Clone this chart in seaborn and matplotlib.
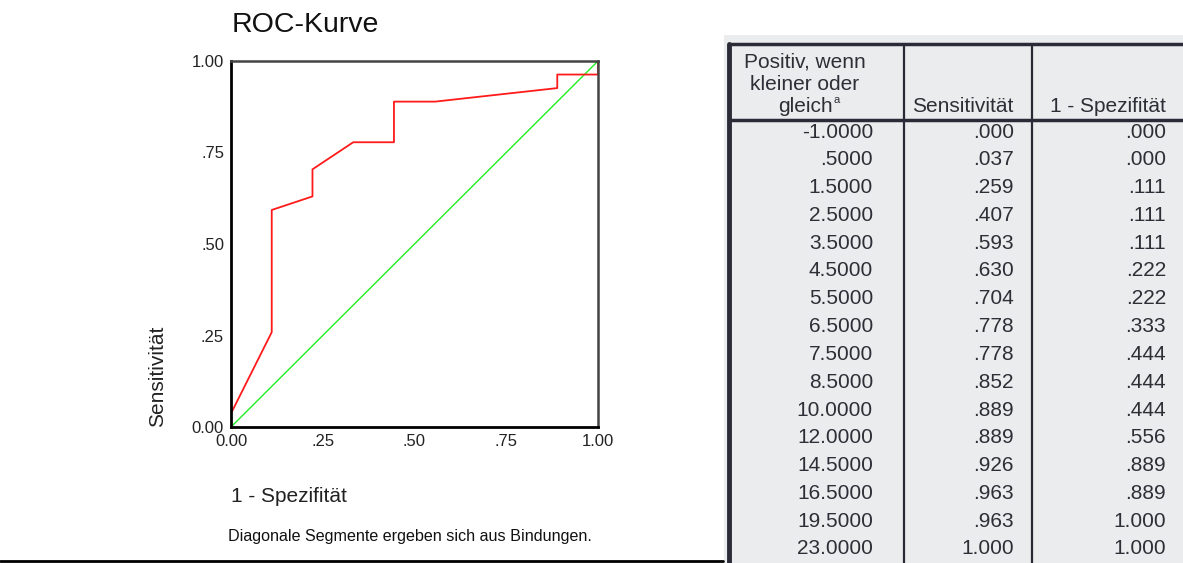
import numpy as np
import pandas as pd
import matplotlib
matplotlib.use("Agg")
import matplotlib.pyplot as plt
import seaborn as sns

# ---- data ----
thresholds = ["-1.0000", ".5000", "1.5000", "2.5000", "3.5000", "4.5000", "5.5000", "6.5000",
              "7.5000", "8.5000", "10.0000", "12.0000", "14.5000", "16.5000", "19.5000", "23.0000"]
sensitivity = [0.000, 0.037, 0.259, 0.407, 0.593, 0.630, 0.704, 0.778,
               0.778, 0.852, 0.889, 0.889, 0.926, 0.963, 0.963, 1.000]
one_minus_spec = [0.000, 0.000, 0.111, 0.111, 0.111, 0.222, 0.222, 0.333,
                  0.444, 0.444, 0.444, 0.556, 0.889, 0.889, 1.000, 1.000]
sens_labels = [".000", ".037", ".259", ".407", ".593", ".630", ".704", ".778",
               ".778", ".852", ".889", ".889", ".926", ".963", ".963", "1.000"]
spec_labels = [".000", ".000", ".111", ".111", ".111", ".222", ".222", ".333",
               ".444", ".444", ".444", ".556", ".889", ".889", "1.000", "1.000"]
ref_x = [0.0, 1.0]
ref_y = [0.0, 1.0]
tick_vals = [0.0, 0.25, 0.5, 0.75, 1.0]
tick_labels = ["0.00", ".25", ".50", ".75", "1.00"]

sns.set_style("white")
plt.rcParams['font.family'] = ['Liberation Sans', 'DejaVu Sans']

W, H = 1183, 563
fig = plt.figure(figsize=(W / 100, H / 100), dpi=100)
fig.patch.set_facecolor("white")

# ---- ROC chart ----
ax = fig.add_axes([231 / W, 1 - 427 / H, (598 - 231) / W, (427 - 61) / H])
roc = pd.DataFrame({"x": one_minus_spec, "y": sensitivity})
ref = pd.DataFrame({"x": ref_x, "y": ref_y})
sns.lineplot(data=ref, x="x", y="y", ax=ax, color="#22ee22", lw=1.0, sort=False,
             estimator=None, errorbar=None)
sns.lineplot(data=roc, x="x", y="y", ax=ax, color="#ff1a1a", lw=1.3, sort=False,
             estimator=None, errorbar=None)
ax.set_xlim(0, 1)
ax.set_ylim(0, 1)
ax.set_xticks(tick_vals)
ax.set_xticklabels(tick_labels)
ax.set_yticks(tick_vals)
ax.set_yticklabels(tick_labels)
ax.tick_params(axis="both", direction="out", length=4, width=2.5, color="black",
               labelsize=12, labelcolor="#222222", pad=1)
for s in ["left", "bottom"]:
    ax.spines[s].set_color("black")
    ax.spines[s].set_linewidth(2)
for s in ["top", "right"]:
    ax.spines[s].set_color("#444444")
    ax.spines[s].set_linewidth(1.8)
ax.set_xlabel("")
ax.set_ylabel("")

fig.text(232 / W, 1 - 25 / H, "ROC-Kurve", fontsize=20.5, ha="left", va="center", color="#111111")
fig.text(158 / W, 1 - 427 / H, "Sensitivität", fontsize=15, rotation=90, ha="center", va="bottom",
         color="#222222")
fig.text(231 / W, 1 - 496 / H, "1 - Spezifität", fontsize=15, ha="left", va="center", color="#222222")
fig.text(228 / W, 1 - 537 / H, "Diagonale Segmente ergeben sich aus Bindungen.", fontsize=11.6,
         ha="left", va="center", color="#111111")
fig.add_artist(plt.Line2D([0, 723 / W], [1 - 561 / H, 1 - 561 / H], color="black", lw=2))

# ---- table (scanned look) ----
axt = fig.add_axes([724 / W, 0, (W - 724) / W, (H - 35) / H])
axt.set_xlim(724, W)
axt.set_ylim(H, 35)
axt.set_facecolor("#eaecee")
for s in axt.spines.values():
    s.set_visible(False)
axt.set_xticks([])
axt.set_yticks([])

lc = "#2b2b38"
axt.plot([729, W], [44, 44], color=lc, lw=2.5)
axt.plot([729, W], [120, 120], color=lc, lw=2.5)
axt.plot([729, 729], [44, H], color=lc, lw=3.5)
axt.plot([904, 904], [44, H], color=lc, lw=1.6)
axt.plot([1032, 1032], [44, H], color=lc, lw=1.6)

tc = "#2e2e36"
fs = 15
axt.text(805, 62, "Positiv, wenn", fontsize=fs, ha="center", va="center", color=tc)
axt.text(805, 84, "kleiner oder", fontsize=fs, ha="center", va="center", color=tc)
axt.text(805, 106, "gleich", fontsize=fs, ha="center", va="center", color=tc)
axt.text(834, 100, "a", fontsize=8, ha="left", va="center", color=tc)
axt.text(1013, 106, "Sensitivität", fontsize=fs, ha="right", va="center", color=tc)
axt.text(1166, 106, "1 - Spezifität", fontsize=fs, ha="right", va="center", color=tc)

row0, step = 132, 27.8
for i, (t, s1, s2) in enumerate(zip(thresholds, sens_labels, spec_labels)):
    y = row0 + i * step
    axt.text(873, y, t, fontsize=fs, ha="right", va="center", color=tc)
    axt.text(1014, y, s1, fontsize=fs, ha="right", va="center", color=tc)
    axt.text(1166, y, s2, fontsize=fs, ha="right", va="center", color=tc)

fig.savefig("out.png", dpi=100)
